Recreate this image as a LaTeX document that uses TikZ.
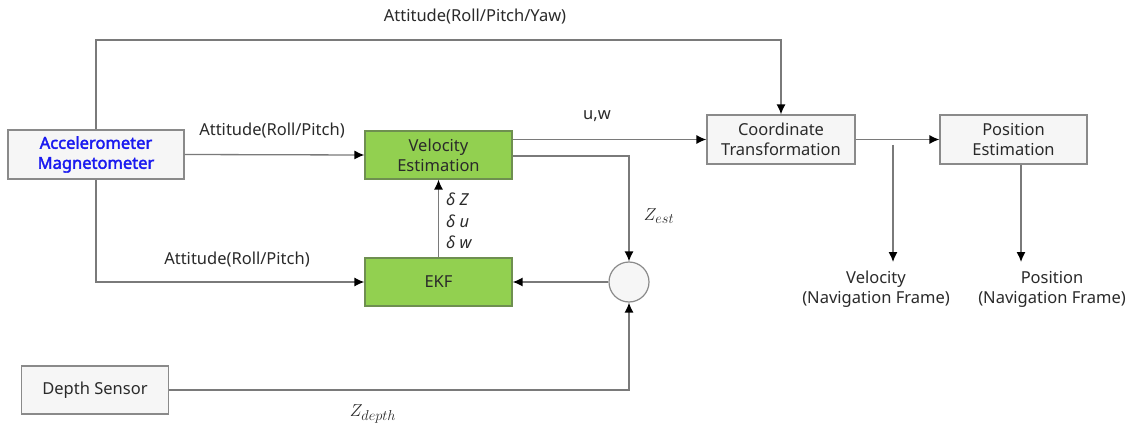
\documentclass[tikz,border=0pt]{standalone}
\usepackage{fontspec}
\setmainfont{Noto Sans}[AutoFakeBold=2.2]
\usetikzlibrary{arrows.meta}
\definecolor{linec}{HTML}{7A7A7A}
\definecolor{boxfill}{HTML}{F6F6F6}
\definecolor{boxline}{HTML}{8A8A8A}
\definecolor{grn}{HTML}{92D050}
\definecolor{grnline}{HTML}{6E8F50}
\definecolor{txt}{HTML}{2A2A2A}
\definecolor{blu}{HTML}{1A1AF0}
\tikzset{
  every node/.style={font=\fontsize{16.5}{20}\selectfont, text=txt},
  graybox/.style={draw=boxline, fill=boxfill, line width=1.2pt, minimum width=147pt, minimum height=48pt, align=center, inner sep=0pt},
  greenbox/.style={draw=grnline, fill=grn, line width=1.2pt, minimum width=147pt, minimum height=48pt, align=center, inner sep=0pt},
  conn/.style={draw=linec, line width=1.3pt},
  arr/.style={conn, -{Latex[length=10pt,width=9pt,color=black]}},
  lbl/.style={inner sep=0pt}
}
\begin{document}
\begin{tikzpicture}[x=1pt,y=-1pt]
\useasboundingbox (0,0) rectangle (1135,425);
\fill[white] (0,0) rectangle (1135,425);
% nodes
\node[graybox, minimum width=176pt, minimum height=49pt, font=\fontsize{16.5}{20}\selectfont\bfseries, text=blu] (acc) at (96,154.5) {Accelerometer\\Magnetometer};
\node[greenbox] (vel) at (438.5,155) {Velocity\\Estimation};
\node[greenbox] (ekf) at (438.5,282) {EKF};
\node[circle, draw=boxline, fill=boxfill, line width=1.2pt, minimum size=40pt, inner sep=0pt] (sum) at (629,282) {};
\node[graybox] (dep) at (95,390) {Depth Sensor};
\node[graybox, minimum width=148pt, minimum height=49pt] (ct) at (781,139.5) {Coordinate\\Transformation};
\node[graybox, minimum height=49pt] (pe) at (1013.5,139.5) {Position\\Estimation};
\node[lbl, align=center] (vout) at (876,289.5) {Velocity\\(Navigation Frame)};
\node[lbl, align=center] (pout) at (1052,289.5) {Position\\(Navigation Frame)};
\coordinate (vs) at (893,145);
\coordinate (ve) at (893,262);
\coordinate (ps) at ([xshift=7.5pt]pe.south);
\coordinate (pend) at (1021,262);
% connectors
\draw[arr] (acc.north) -- (96,40) -| (ct.north);
\draw[arr] (acc.east) -- (vel.west);
\draw[arr] (acc.south) |- (ekf.west);
\draw[arr] (vel.east |- ct.west) -- (ct.west);
\draw[arr] ([yshift=-1pt]vel.east) -| (sum.north);
\draw[arr] (dep.east) -| (sum.south);
\draw[arr] (sum.west) -- (ekf.east);
\draw[arr] (ekf.north) -- (vel.south);
\draw[arr] (ct.east) -- (pe.west);
\draw[arr] (vs) -- (ve);
\draw[arr] (ps) -- (pend);
% labels
\node[lbl] (l1) at (475,17) {Attitude(Roll/Pitch/Yaw)};
\node[lbl] (l2) at (272,131) {Attitude(Roll/Pitch)};
\node[lbl] (l3) at (237,260) {Attitude(Roll/Pitch)};
\node[lbl] (l4) at (597,116) {u,w};
\node[lbl, anchor=west] (d1) at (446,199) {\textit{δ Z}};
\node[lbl, anchor=west] (d2) at (446,221) {\textit{δ u}};
\node[lbl, anchor=west] (d3) at (446,242) {\textit{δ w}};
\node[lbl, font=\fontsize{19}{22}\selectfont] (ze) at (659,216) {$Z_{est}$};
\node[lbl, font=\fontsize{19}{22}\selectfont] (zd) at (373,414) {$Z_{depth}$};
\end{tikzpicture}
\end{document}
